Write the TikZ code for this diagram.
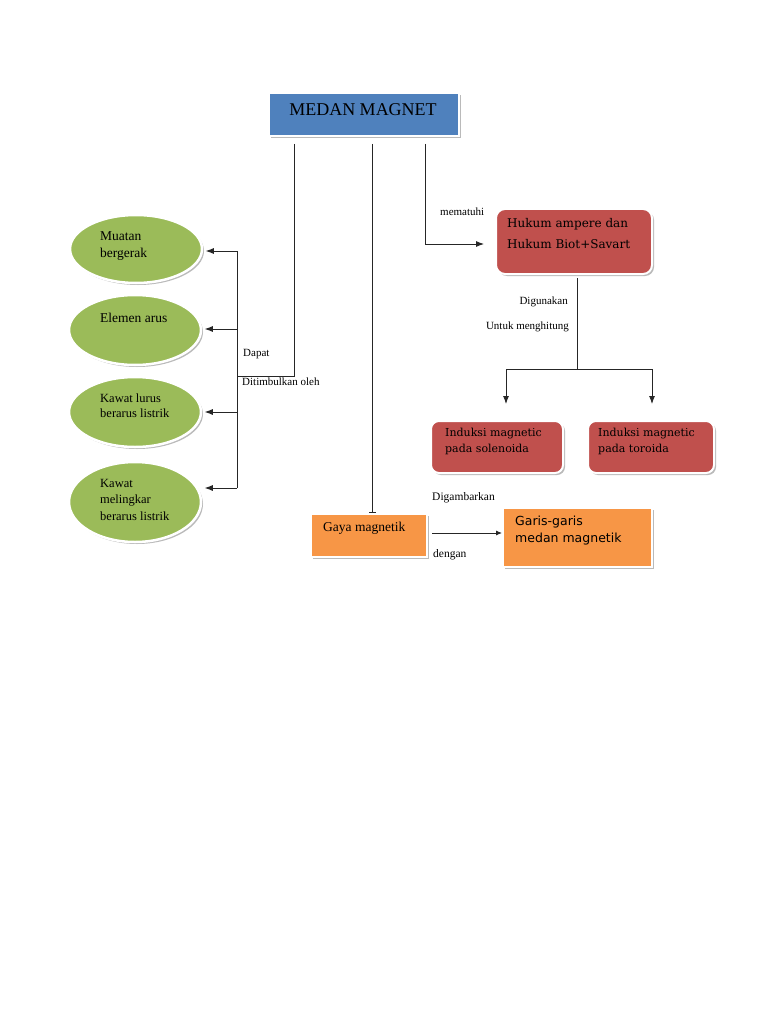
\documentclass[tikz,border=0pt]{standalone}
\usepackage{fontspec}
\setmainfont{Liberation Serif}
\newfontfamily\dvserif{DejaVu Serif}
\newfontfamily\dvsans{DejaVu Sans}
\usetikzlibrary{shapes.geometric,shadows,arrows.meta,calc}
\definecolor{cblue}{HTML}{4F81BD}
\definecolor{cred}{HTML}{C0504D}
\definecolor{cgreen}{HTML}{9BBB59}
\definecolor{corange}{HTML}{F79646}
\tikzset{
  shad/.style={drop shadow={shadow xshift=2pt,shadow yshift=-2pt,opacity=0.45,fill=black!60}},
  bx/.style={rectangle, draw=white, line width=2pt, shad, inner sep=0},
  rbx/.style={bx, fill=cred, rounded corners=9pt},
  obx/.style={bx, fill=corange},
  ell/.style={ellipse, draw=white, line width=2.5pt, fill=cgreen, shad, inner sep=0, minimum width=132},
  txt/.style={inner sep=0, anchor=west, align=left},
  lbl/.style={inner sep=0, anchor=west, font=\fontsize{11}{13}\selectfont},
  ln/.style={line width=0.9pt, black!85},
  arr/.style={ln, -{Latex[length=8pt,width=6pt]}}
}
\begin{document}
\begin{tikzpicture}[x=1pt,y=-1pt]
\path[use as bounding box, fill=white] (0,0) rectangle (768,1024);

% main box
\node[bx, fill=cblue, minimum width=190, minimum height=43] (mm) at (364,115) {};
\node[inner sep=0, font=\fontsize{18}{20}\selectfont] (mmt) at (363,110) {MEDAN MAGNET};

% ellipses
\node[ell, minimum height=68] (mu) at (136,249) {};
\node[ell, minimum height=70] (el) at (135,330) {};
\node[ell, minimum height=70] (kl) at (135,412) {};
\node[ell, minimum height=80] (km) at (135,502) {};
\node[txt, font=\fontsize{13.5}{17}\selectfont] (mut) at (100,246.5) {Muatan\\bergerak};
\node[txt, font=\fontsize{13.5}{17}\selectfont] (elt) at (100,318) {Elemen arus};
\node[txt, font=\fontsize{12.5}{15}\selectfont] (klt) at (100,405.5) {Kawat lurus\\berarus listrik};
\node[txt, font=\fontsize{12.5}{16.5}\selectfont] (kmt) at (100,499.5) {Kawat\\melingkar\\berarus listrik};

% right boxes
\node[rbx, minimum width=156, minimum height=65] (hk) at (574,241.5) {};
\node[txt, font=\dvserif\fontsize{12}{21}\selectfont] (hkt) at (507,233.5) {Hukum ampere dan\\Hukum Biot+Savart};
\node[rbx, minimum width=132, minimum height=52, rounded corners=8pt] (so) at (497,447) {};
\node[rbx, minimum width=126, minimum height=52, rounded corners=8pt] (to) at (651,447) {};
\node[txt, font=\dvserif\fontsize{11}{16}\selectfont] (sot) at (445,441) {Induksi magnetic\\pada solenoida};
\node[txt, font=\dvserif\fontsize{11}{16}\selectfont] (tot) at (598,441) {Induksi magnetic\\pada toroida};

% bottom boxes
\node[obx, minimum width=116, minimum height=43] (gm) at (369,535.5) {};
\node[txt, font=\fontsize{13.5}{16}\selectfont] (gmt) at (323,528) {Gaya magnetik};
\node[obx, minimum width=149, minimum height=59] (gr) at (577.5,537.5) {};
\node[txt, font=\dvsans\fontsize{12.5}{17}\selectfont] (grt) at (515,530.5) {Garis-garis\\medan magnetik};

% labels
\node[lbl] (dap) at (243,354) {Dapat};
\node[lbl] (dit) at (242,382) {Ditimbulkan oleh};
\node[lbl] (mem) at (440,212) {mematuhi};
\node[lbl, anchor=east] (dig) at (568,302) {Digunakan};
\node[lbl, anchor=east] (unt) at (569,327) {Untuk menghitung};
\node[lbl, font=\fontsize{11.5}{13}\selectfont] (dgb) at (432,498) {Digambarkan};
\node[lbl, font=\fontsize{11.5}{13}\selectfont] (den) at (433,555) {dengan};

% connectors: left branch
\coordinate (p1) at (294,144);
\coordinate (p2) at (237,376);
\coordinate (q1) at (237,251);
\coordinate (q2) at (237,329);
\coordinate (q3) at (237,412);
\coordinate (q4) at (237,488);
\draw[ln] (p1) |- (p2);
\draw[ln] (q1) -- (q4);
\draw[arr, shorten >=2.5pt] (q1) -- (q1 -| mu.east);
\draw[arr, shorten >=2.5pt] (q2) -- (q2 -| el.east);
\draw[arr, shorten >=2.5pt] (q3) -- (q3 -| kl.east);
\draw[arr, shorten >=2.5pt] (q4) -- (q4 -| km.east);

% middle
\coordinate (p3) at (372,144);
\draw[ln, -{Bar[width=7pt]}] (p3) -- (p3 |- gm.north);

% right branch
\coordinate (p4) at (425,144);
\coordinate (p5) at (484,244);
\draw[arr] (p4) |- (p5);
\coordinate (h0) at (577,278);
\coordinate (h1) at (577,369);
\coordinate (t1) at (506,404);
\coordinate (t2) at (652,404);
\draw[ln] (h0) -- (h1);
\draw[arr] (h1) -| (t1);
\draw[arr] (h1) -| (t2);

% gaya -> garis
\coordinate (g1) at (432,533);
\draw[ln, -{Latex[length=6pt,width=5pt]}] (g1) -- (g1 -| gr.west);
\end{tikzpicture}
\end{document}
